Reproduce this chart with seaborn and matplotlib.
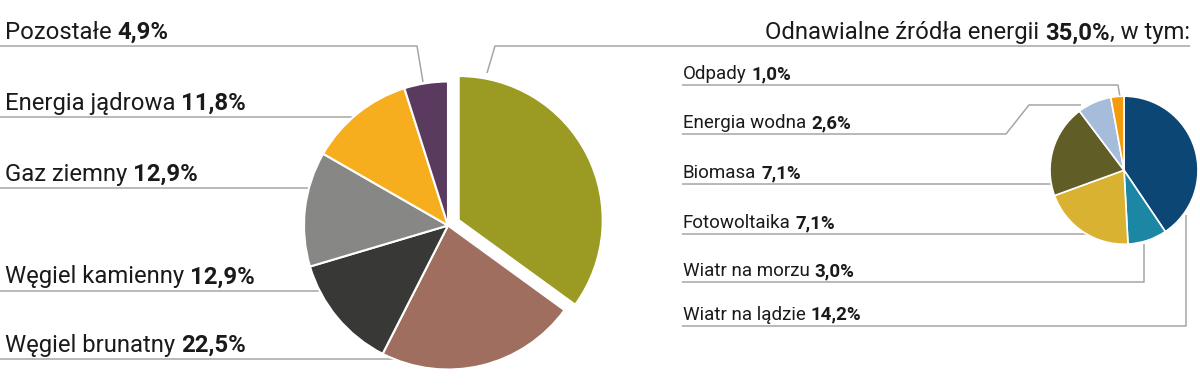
# Struktura produkcji energii elektrycznej - dwa wykresy kołowe (całość + OZE)
import numpy as np
import matplotlib.pyplot as plt
import seaborn as sns

main_labels = ["Odnawialne źródła energii", "Węgiel brunatny", "Węgiel kamienny",
               "Gaz ziemny", "Energia jądrowa", "Pozostałe"]
main_values = [35.0, 22.5, 12.9, 12.9, 11.8, 4.9]
main_colors = ["#9b9a22", "#a06e5f", "#383836", "#878785", "#f6ae1f", "#5a3b5f"]

res_labels = ["Wiatr na lądzie", "Wiatr na morzu", "Fotowoltaika", "Biomasa",
              "Energia wodna", "Odpady"]
res_values = [14.2, 3.0, 7.1, 7.1, 2.6, 1.0]
res_colors = ["#0c4675", "#1b87a5", "#d9b232", "#605d26", "#a5bddb", "#f39a0d"]

sns.set_style("white")
plt.rcParams["font.family"] = ["Roboto", "DejaVu Sans"]

W, H = 1200, 385
TXT = "#1a1a1a"
LINE = "#a6a6a6"
FS_BIG = 17.2
FS_SMALL = 13.5


def Y(y):
    # pozycje liczone w pikselach od góry
    return H - y


def pct(v):
    return f"{v:.1f}%".replace(".", ",")


def label(ax, x, y, name, value, size):
    t = ax.text(x, Y(y), name, fontsize=size, color=TXT, va="baseline", ha="left")
    ax.annotate(pct(value), xy=(1, 0), xycoords=t, xytext=(size * 0.25, 0),
                textcoords="offset points", fontsize=size, fontweight="bold",
                color=TXT, va="bottom", ha="left")


def leader(ax, pts):
    xs = [p[0] for p in pts]
    ys = [Y(p[1]) for p in pts]
    ax.plot(xs, ys, color=LINE, lw=1.1, zorder=0.5, solid_capstyle="butt")


def edge_x(cx, cy, r, y):
    return cx - np.sqrt(r ** 2 - (y - cy) ** 2)


fig = plt.figure(figsize=(12, 3.85), dpi=100)
ax = fig.add_axes([0, 0, 1, 1])

# lewy wykres (explode w jednostkach osi = piksele)
cx1, cy1, r1 = 448, 225.5, 144
ax.pie(main_values, colors=sns.color_palette(main_colors), startangle=90,
       counterclock=False, center=(cx1, Y(cy1)), radius=r1,
       explode=[12, 0, 0, 0, 0, 0],
       wedgeprops=dict(edgecolor="white", linewidth=1.5))

# prawy wykres
cx2, cy2, r2 = 1124, 170.2, 74
ax.pie(res_values, colors=sns.color_palette(res_colors), startangle=90,
       counterclock=False, center=(cx2, Y(cy2)), radius=r2,
       wedgeprops=dict(edgecolor="white", linewidth=1.2))

ax.set_xlim(0, W)
ax.set_ylim(0, H)
ax.axis("off")

# etykiety lewego wykresu (od góry)
left_order = [5, 4, 3, 2, 1]
left_base = [39, 110, 181, 283.5, 352]
for i, yb in zip(left_order, left_base):
    label(ax, 5, yb, main_labels[i], main_values[i], FS_BIG)
    yu = yb + 7
    if i == 5:
        leader(ax, [(0, yu), (417, yu), (423, 82)])
    else:
        leader(ax, [(0, yu), (edge_x(cx1, cy1, r1, yu) + 1, yu)])

# nagłówek OZE (wyrównany do prawej)
t3 = ax.text(1190, Y(39.3), ", w tym:", fontsize=FS_BIG, color=TXT, va="baseline", ha="right")
t2 = ax.annotate(pct(main_values[0]), xy=(0, 0), xycoords=t3, fontsize=FS_BIG,
                 fontweight="bold", color=TXT, va="bottom", ha="right")
ax.annotate(main_labels[0], xy=(0, 0), xycoords=t2, xytext=(-FS_BIG * 0.25, 0),
            textcoords="offset points", fontsize=FS_BIG, color=TXT, va="bottom", ha="right")
leader(ax, [(1190, 46), (495, 46), (487, 73)])

# etykiety prawego wykresu
right_order = [5, 4, 3, 2, 1, 0]
right_base = [79.3, 128.3, 178.3, 228, 276.3, 319.7]
for i, yb in zip(right_order, right_base):
    label(ax, 683, yb, res_labels[i], res_values[i], FS_SMALL)

leader(ax, [(682, 85), (1118, 85), (1120, 97)])
leader(ax, [(682, 134), (1006, 134), (1029, 105), (1081, 105)])
leader(ax, [(682, 184.3), (edge_x(cx2, cy2, r2, 184.3) + 1, 184.3)])
leader(ax, [(682, 234), (edge_x(cx2, cy2, r2, 234) + 1, 234)])
leader(ax, [(682, 282.3), (1144, 282.3), (1144, 244)])
leader(ax, [(682, 325.7), (1186, 325.7), (1186, 215)])

fig.savefig("out.png", dpi=100)
